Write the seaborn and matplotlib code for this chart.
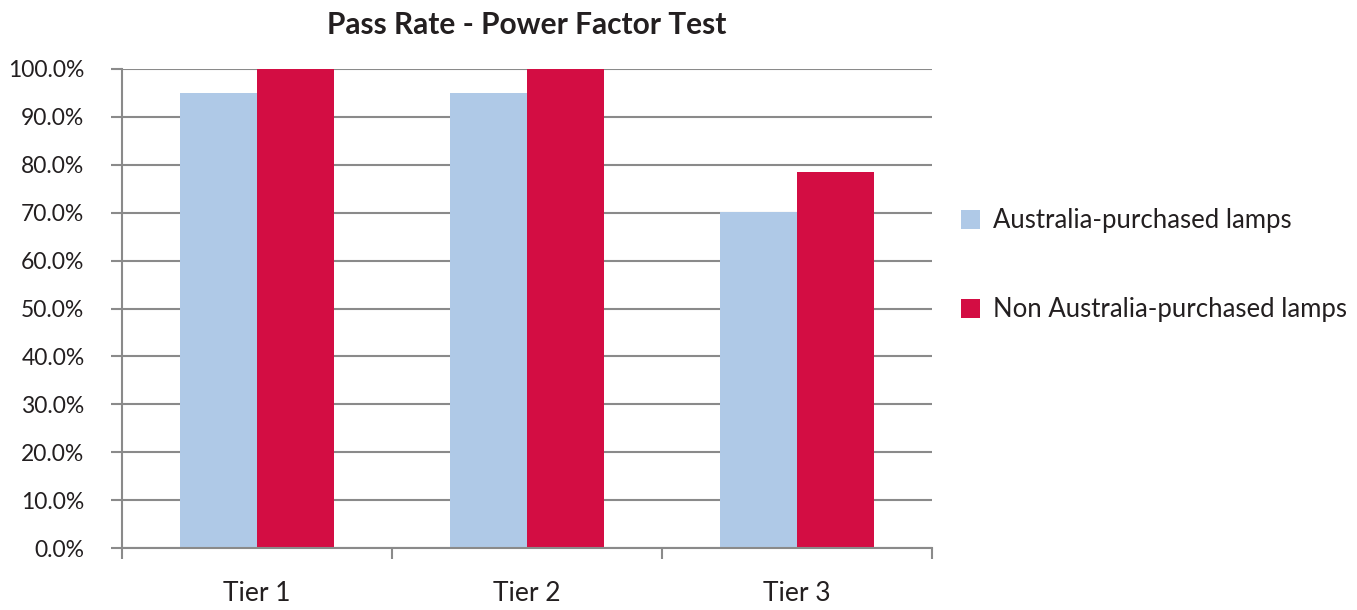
import matplotlib
matplotlib.use("Agg")
import matplotlib.pyplot as plt
import seaborn as sns
import pandas as pd
from matplotlib.ticker import FixedLocator, PercentFormatter

# Data
tiers = ["Tier 1", "Tier 2", "Tier 3"]
groups = ["Australia-purchased lamps", "Non Australia-purchased lamps"]
australia = [95.0, 95.0, 70.1]
non_australia = [100.0, 100.0, 78.6]
y_ticks = [0, 10, 20, 30, 40, 50, 60, 70, 80, 90, 100]

colors = ["#AFC9E7", "#D30D43"]
grid_col = "#8A8A8A"
text_col = "#231F20"

df = pd.DataFrame({
    "tier": tiers * 2,
    "group": [groups[0]] * 3 + [groups[1]] * 3,
    "rate": australia + non_australia,
})

sns.set_style("white")
plt.rcParams["font.family"] = ["Lato", "DejaVu Sans"]

fig = plt.figure(figsize=(13.57, 6.10), dpi=100)
ax = fig.add_axes([0.0899, 0.1016, 0.5969, 0.7853])

sns.barplot(data=df, x="tier", y="rate", hue="group", palette=colors,
            width=0.57, saturation=1, linewidth=0, ax=ax, legend=True)

ax.set_ylim(0, 100)
ax.set_xlim(-0.5, 2.5)
ax.set_xlabel("")
ax.set_ylabel("")

# gridlines and spines
ax.yaxis.set_major_locator(FixedLocator(y_ticks))
ax.yaxis.set_major_formatter(PercentFormatter(decimals=1))
ax.grid(axis="y", color=grid_col, linewidth=1.5)
ax.set_axisbelow(True)
for side in ["top", "right"]:
    ax.spines[side].set_visible(False)
for side in ["left", "bottom"]:
    ax.spines[side].set_color(grid_col)
    ax.spines[side].set_linewidth(1.5)

ax.tick_params(axis="y", which="major", direction="out", length=8, width=1.5,
               color=grid_col, labelsize=16.5, labelcolor=text_col, pad=19, left=True)

# x ticks at category boundaries, labels at centers
ax.set_xticks([-0.5, 0.5, 1.5, 2.5])
ax.set_xticklabels([])
ax.set_xticks([0, 1, 2], minor=True)
ax.set_xticklabels(tiers, minor=True)
ax.tick_params(axis="x", which="major", direction="out", length=8, width=1.5,
               color=grid_col, bottom=True)
ax.tick_params(axis="x", which="minor", length=0, labelsize=19,
               labelcolor=text_col, pad=24)

ax.set_title("Pass Rate - Power Factor Test", fontsize=21.5, fontweight="bold",
             color=text_col, pad=25)

handles, labels = ax.get_legend_handles_labels()
ax.legend(handles, labels, loc="center left", bbox_to_anchor=(0.691, 0.565),
          bbox_transform=fig.transFigure, frameon=False, fontsize=18.5,
          labelspacing=2.5, handlelength=0.75, handleheight=0.75,
          handletextpad=0.5, labelcolor=text_col)

fig.savefig("out.png", dpi=100)
